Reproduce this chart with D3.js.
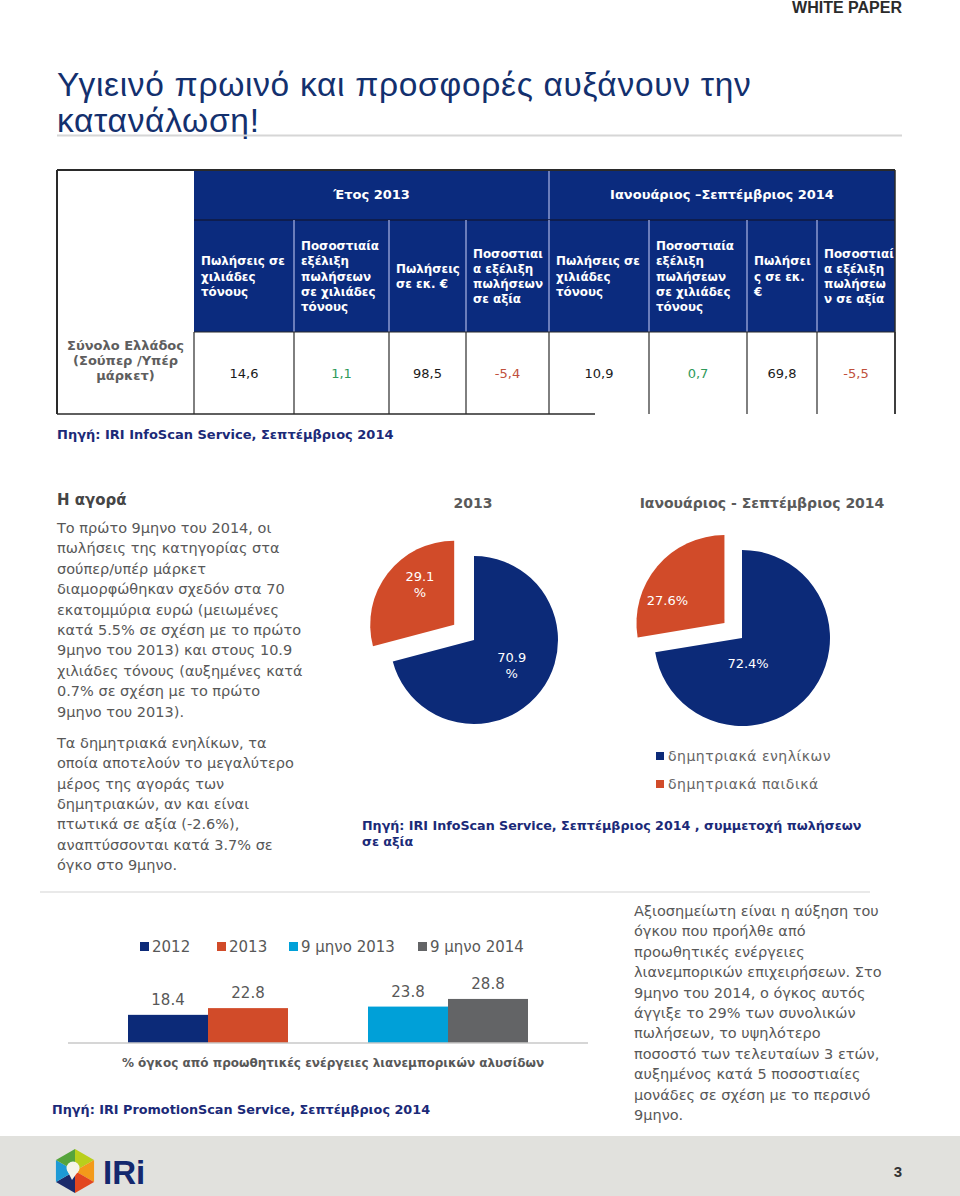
<!DOCTYPE html>
<html><head><meta charset="utf-8">
<script src="https://cdn.jsdelivr.net/npm/d3@7"></script>
<style>
body{margin:0;background:#fff;}
svg text{font-family:"DejaVu Sans",Verdana,sans-serif;}
</style></head><body><svg id="page" width="960" height="1196"></svg>
<script>
// ---------- DATA ----------
const tablePeriods = ["Έτος 2013", "Ιανουάριος –Σεπτέμβριος 2014"];
const tableHeaders = [
  ["Πωλήσεις σε","χιλιάδες","τόνους"],
  ["Ποσοστιαία","εξέλιξη","πωλήσεων","σε χιλιάδες","τόνους"],
  ["Πωλήσεις","σε εκ. €"],
  ["Ποσοστιαι","α εξέλιξη","πωλήσεων","σε αξία"],
  ["Πωλήσεις σε","χιλιάδες","τόνους"],
  ["Ποσοστιαία","εξέλιξη","πωλήσεων","σε χιλιάδες","τόνους"],
  ["Πωλήσει","ς σε εκ.","€"],
  ["Ποσοστιαί","α εξέλιξη","πωλήσεω","ν σε αξία"]
];
const tableRowLabel = ["Σύνολο Ελλάδος","(Σούπερ /Υπέρ","μάρκετ)"];
const tableValues = [14.6, 1.1, 98.5, -5.4, 10.9, 0.7, 69.8, -5.5];
const tableValueIsChange = [false, true, false, true, false, true, false, true];

const pieCategories = ["δημητριακά ενηλίκων", "δημητριακά παιδικά"];
const pieTitles = ["2013", "Ιανουάριος - Σεπτέμβριος 2014"];
const pieValues2013 = [70.9, 29.1];
const pieValues2014 = [72.4, 27.6];
const pieLabels2013 = [["70.9","%"], ["29.1","%"]];
const pieLabels2014 = [["72.4%"], ["27.6%"]];

const barCategories = ["2012", "2013", "9 μηνο 2013", "9 μηνο 2014"];
const barGroups = ["έτος", "9μηνο"];
const barGroupOf = [0, 0, 1, 1];
const barValues = [18.4, 22.8, 23.8, 28.8];
const barAxisLabel = "% όγκος από προωθητικές ενέργειες λιανεμπορικών αλυσίδων";

// ---------- STYLE ----------
const NAVY = "#0b2b7e", PIE_BLUE = "#0c2a78", ORANGE = "#d14b29", CYAN = "#00a0d8", GREYBAR = "#636466";
const TXT = "#585858", SRC = "#1b2a78";
const barColors = [PIE_BLUE, ORANGE, CYAN, GREYBAR];
const pieColors = [PIE_BLUE, ORANGE];
// label placement (radius factor, angle shift in degrees) per slice, like the "best fit" of the original
const pieLabelPlace2013 = [[0.54, -4], [0.63, 12]];
const pieLabelPlace2014 = [[0.29, 36], [0.70, -18]];

const svg = d3.select("#page");

// header
svg.append("text").attr("x", 902).attr("y", 13).attr("text-anchor", "end")
  .style("font-family", "'Liberation Sans Narrow','Liberation Sans',sans-serif")
  .style("font-weight", "bold").style("font-size", "16px").attr("fill", "#2b2b2b").text("WHITE PAPER");

// title
const title = svg.append("text").attr("fill", "#13306e")
  .style("font-family", "'Liberation Sans',Arial,sans-serif").style("font-size", "33.5px").style("letter-spacing", "0.7px");
title.append("tspan").attr("x", 57).attr("y", 96).text("Υγιεινό πρωινό και προσφορές αυξάνουν την");
title.append("tspan").attr("x", 57).attr("y", 132).text("κατανάλωση!");
svg.append("line").attr("x1", 57).attr("x2", 902).attr("y1", 135.5).attr("y2", 135.5)
  .attr("stroke", "#d6d6d6").attr("stroke-width", 2);

// ---------- TABLE ----------
const colEdges = [57, 194, 294, 389, 466, 549, 649, 747, 817, 895];
const rowEdges = [170, 220, 332, 414];
const T = svg.append("g");
T.append("rect").attr("x", colEdges[1]).attr("y", rowEdges[0])
  .attr("width", colEdges[9] - colEdges[1]).attr("height", rowEdges[2] - rowEdges[0]).attr("fill", NAVY);
tablePeriods.forEach((p, i) => {
  const x0 = colEdges[1 + i * 4], x1 = colEdges[5 + i * 4];
  T.append("text").attr("x", (x0 + x1) / 2).attr("y", 199).attr("text-anchor", "middle")
    .attr("fill", "#fff").style("font-size", "13px").style("font-weight", "bold").text(p);
});
T.append("line").attr("x1", colEdges[5]).attr("x2", colEdges[5]).attr("y1", rowEdges[0]).attr("y2", rowEdges[1])
  .attr("stroke", "#8c9ad0").attr("stroke-width", 1.5);
T.append("line").attr("x1", colEdges[1]).attr("x2", colEdges[9]).attr("y1", rowEdges[1]).attr("y2", rowEdges[1])
  .attr("stroke", "#101a40").attr("stroke-width", 1.5);
tableHeaders.forEach((lines, i) => {
  const x0 = colEdges[i + 1];
  if (i > 0) T.append("line").attr("x1", x0).attr("x2", x0).attr("y1", rowEdges[1]).attr("y2", rowEdges[2])
    .attr("stroke", "#8c9ad0").attr("stroke-width", 1.5);
  const lh = 15.2, mid = (rowEdges[1] + rowEdges[2]) / 2;
  const t = T.append("text").attr("fill", "#fff").style("font-size", "11.9px").style("font-weight", "bold");
  lines.forEach((l, k) => t.append("tspan").attr("x", x0 + 7)
    .attr("y", mid - (lines.length - 1) * lh / 2 + k * lh + 4.5).text(l));
});
const fmt = v => d3.format(".1f")(v).replace(".", ",").replace("−", "-");
const lbl = T.append("text").attr("fill", "#5e5e5e").attr("text-anchor", "middle")
  .style("font-size", "13px").style("font-weight", "bold");
tableRowLabel.forEach((l, k) => lbl.append("tspan").attr("x", (colEdges[0] + colEdges[1]) / 2)
  .attr("y", 365 + (k - 1) * 15).text(l));
tableValues.forEach((v, i) => {
  const col = tableValueIsChange[i] ? (v >= 0 ? "#2f9a5a" : "#c0503c") : "#1a1a1a";
  T.append("text").attr("x", (colEdges[i + 1] + colEdges[i + 2]) / 2).attr("y", 378)
    .attr("text-anchor", "middle").attr("fill", col).style("font-size", "13px").text(fmt(v));
});
for (let i = 1; i < colEdges.length; i++) {
  T.append("line").attr("x1", colEdges[i]).attr("x2", colEdges[i]).attr("y1", rowEdges[2]).attr("y2", rowEdges[3])
    .attr("stroke", "#2a2a2a").attr("stroke-width", 1.2);
}
T.append("line").attr("x1", colEdges[1]).attr("x2", colEdges[9]).attr("y1", rowEdges[2]).attr("y2", rowEdges[2])
  .attr("stroke", "#2a2a2a").attr("stroke-width", 1.2);
T.append("line").attr("x1", colEdges[0]).attr("x2", colEdges[9]).attr("y1", rowEdges[0]).attr("y2", rowEdges[0])
  .attr("stroke", "#2a2a2a").attr("stroke-width", 2);
T.append("line").attr("x1", colEdges[0]).attr("x2", colEdges[0]).attr("y1", rowEdges[0]).attr("y2", rowEdges[3])
  .attr("stroke", "#2a2a2a").attr("stroke-width", 2);
T.append("line").attr("x1", colEdges[9]).attr("x2", colEdges[9]).attr("y1", rowEdges[0]).attr("y2", rowEdges[3])
  .attr("stroke", "#2a2a2a").attr("stroke-width", 1.5);
T.append("line").attr("x1", colEdges[0]).attr("x2", 595).attr("y1", rowEdges[3]).attr("y2", rowEdges[3])
  .attr("stroke", "#2a2a2a").attr("stroke-width", 1.5);

svg.append("text").attr("x", 57).attr("y", 439).attr("fill", SRC).style("font-size", "13px")
  .style("font-weight", "bold").text("Πηγή: IRI InfoScan Service, Σεπτέμβριος 2014");

// ---------- LEFT TEXT ----------
function para(x, y0, lh, lines, opts = {}) {
  const t = svg.append("text").attr("fill", opts.fill || TXT).style("font-size", (opts.size || 14.5) + "px");
  if (opts.bold) t.style("font-weight", "bold");
  lines.forEach((l, k) => t.append("tspan").attr("x", x).attr("y", y0 + k * lh).text(l));
}
para(57, 505, 20, ["Η αγορά"], { bold: true, fill: "#454545", size: 15 });
para(57, 533, 20.4, [
  "Το πρώτο 9μηνο του 2014, οι",
  "πωλήσεις της κατηγορίας στα",
  "σούπερ/υπέρ μάρκετ",
  "διαμορφώθηκαν σχεδόν στα  70",
  "εκατομμύρια ευρώ (μειωμένες",
  "κατά 5.5% σε σχέση με το πρώτο",
  "9μηνο του 2013) και στους 10.9",
  "χιλιάδες τόνους (αυξημένες κατά",
  "0.7% σε σχέση με το πρώτο",
  "9μηνο του 2013)."
]);
para(57, 748, 20.3, [
  "Τα δημητριακά ενηλίκων, τα",
  "οποία αποτελούν το μεγαλύτερο",
  "μέρος της αγοράς των",
  "δημητριακών, αν και είναι",
  "πτωτικά σε αξία (-2.6%),",
  "αναπτύσσονται κατά 3.7% σε",
  "όγκο στο 9μηνο."
]);

// ---------- PIES ----------
function drawPie(cx, cy, r, explode, values, labels, place, titleText, tx, ty) {
  const g = svg.append("g");
  g.append("text").attr("x", tx).attr("y", ty).attr("text-anchor", "middle").attr("fill", "#5a5a5a")
    .style("font-size", "14px").style("font-weight", "bold").text(titleText);
  const arcs = d3.pie().sort(null)(values);
  const arc = d3.arc().innerRadius(0).outerRadius(r);
  arcs.forEach((a, i) => {
    const mid = (a.startAngle + a.endAngle) / 2;
    const off = i === 1 ? explode : 0;
    const dx = Math.sin(mid) * off, dy = -Math.cos(mid) * off;
    const sg = g.append("g").attr("transform", `translate(${cx + dx},${cy + dy})`);
    sg.append("path").attr("d", arc(a)).attr("fill", pieColors[i]);
    const la = mid + place[i][1] * Math.PI / 180, lr = place[i][0] * r;
    const labelArc = d3.arc().innerRadius(lr).outerRadius(lr);
    const [lx, ly] = labelArc.centroid({ startAngle: la, endAngle: la });
    const lt = sg.append("text").attr("fill", "#fff").attr("text-anchor", "middle").style("font-size", "13px");
    const L = labels[i];
    L.forEach((s, k) => lt.append("tspan").attr("x", lx).attr("y", ly + 5 + (k - (L.length - 1) / 2) * 16).text(s));
  });
}
drawPie(474, 640, 84, 25, pieValues2013, pieLabels2013, pieLabelPlace2013, pieTitles[0], 473, 508);
drawPie(742, 638, 88, 23, pieValues2014, pieLabels2014, pieLabelPlace2014, pieTitles[1], 762, 508);

pieCategories.forEach((c, i) => {
  const y = 756 + i * 28;
  svg.append("rect").attr("x", 656).attr("y", y - 4).attr("width", 8).attr("height", 8).attr("fill", pieColors[i]);
  svg.append("text").attr("x", 668).attr("y", y + 5).attr("fill", "#666").style("font-size", "14px")
    .style("letter-spacing", "0.5px").text(c);
});
para(362, 830, 16, ["Πηγή: IRI InfoScan Service,  Σεπτέμβριος 2014 , συμμετοχή πωλήσεων", "σε αξία"],
  { bold: true, fill: SRC, size: 12.7 });

svg.append("line").attr("x1", 40).attr("x2", 870).attr("y1", 892).attr("y2", 892)
  .attr("stroke", "#e2e2e2").attr("stroke-width", 1.5);

// ---------- BAR CHART ----------
const x0 = d3.scaleBand().domain(d3.range(barGroups.length)).range([68, 588]).paddingInner(1 / 3).paddingOuter(0.25);
const x1 = d3.scaleBand().domain([0, 1]).range([0, x0.bandwidth()]);
const y = d3.scaleLinear().domain([0, 40]).range([1043, 1043 - 61.2]);
const B = svg.append("g");
barValues.forEach((v, i) => {
  const within = i - barGroupOf.indexOf(barGroupOf[i]);
  const bx = x0(barGroupOf[i]) + x1(within);
  B.append("rect").attr("x", bx).attr("y", y(v)).attr("width", x1.bandwidth()).attr("height", y(0) - y(v))
    .attr("fill", barColors[i]);
  B.append("text").attr("x", bx + x1.bandwidth() / 2).attr("y", y(v) - 10).attr("text-anchor", "middle")
    .attr("fill", TXT).style("font-size", "15px").text(d3.format(".1f")(v));
});
B.append("line").attr("x1", 68).attr("x2", 588).attr("y1", y(0)).attr("y2", y(0)).attr("stroke", "#c8c8c8").attr("stroke-width", 1.5);
B.append("text").attr("x", 333).attr("y", 1067).attr("text-anchor", "middle").attr("fill", TXT)
  .style("font-size", "12px").style("font-weight", "bold").text(barAxisLabel);
const legX = [140, 217, 289, 418];
barCategories.forEach((c, i) => {
  B.append("rect").attr("x", legX[i]).attr("y", 942).attr("width", 9).attr("height", 9).attr("fill", barColors[i]);
  B.append("text").attr("x", legX[i] + 12).attr("y", 952).attr("fill", TXT).style("font-size", "15px").text(c);
});
svg.append("text").attr("x", 52).attr("y", 1114).attr("fill", SRC).style("font-size", "12.8px")
  .style("font-weight", "bold").text("Πηγή: IRI PromotionScan Service,  Σεπτέμβριος 2014");

para(634, 916, 20.4, [
  "Αξιοσημείωτη είναι η αύξηση του",
  "όγκου που προήλθε από",
  "προωθητικές ενέργειες",
  "λιανεμπορικών επιχειρήσεων. Στο",
  "9μηνο του 2014, ο όγκος αυτός",
  "άγγιξε το 29% των συνολικών",
  "πωλήσεων, το υψηλότερο",
  "ποσοστό των τελευταίων 3 ετών,",
  "αυξημένος κατά 5 ποσοστιαίες",
  "μονάδες σε σχέση με το περσινό",
  "9μηνο."
]);

// ---------- FOOTER ----------
svg.append("rect").attr("x", 0).attr("y", 1136).attr("width", 960).attr("height", 60).attr("fill", "#e1e1dd");
const hexC = [75, 1171], hexR = 22;
const hexCols = ["#b9cf1c", "#f39a1a", "#e2471f", "#1b2a6b", "#1d9ad6", "#55a43c"];
const vtx = k => { const a = (-90 + 60 * k) * Math.PI / 180; return [hexC[0] + hexR * Math.cos(a), hexC[1] + hexR * Math.sin(a)]; };
hexCols.forEach((c, k) => {
  const p1 = vtx(k), p2 = vtx(k + 1);
  svg.append("path").attr("d", `M${hexC[0]},${hexC[1]}L${p1[0]},${p1[1]}L${p2[0]},${p2[1]}Z`).attr("fill", c);
});
svg.append("circle").attr("cx", hexC[0] - 2).attr("cy", hexC[1] - 3).attr("r", 6.5).attr("fill", "#f4f4e8");
svg.append("path").attr("d", `M${hexC[0] - 8},${hexC[1] - 1}L${hexC[0] - 3},${hexC[1] + 9}L${hexC[0] + 4},${hexC[1] - 1}Z`).attr("fill", "#f4f4e8");
svg.append("text").attr("x", 103).attr("y", 1184).attr("fill", "#14286e")
  .style("font-family", "'Liberation Sans Narrow','Liberation Sans',sans-serif").style("font-weight", "bold")
  .style("font-size", "33px").text("IRi");
svg.append("text").attr("x", 902).attr("y", 1177).attr("text-anchor", "end").attr("fill", "#333")
  .style("font-family", "'Liberation Sans Narrow','Liberation Sans',sans-serif").style("font-weight", "bold")
  .style("font-size", "15px").text("3");
</script></body></html>
